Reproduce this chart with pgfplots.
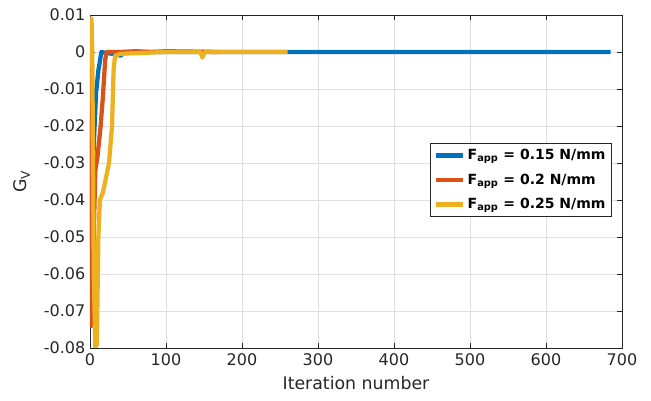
\documentclass[border=0pt]{standalone}
\usepackage{fontspec}
\setmainfont{DejaVu Sans}
\usepackage{pgfplots}
\pgfplotsset{compat=1.18}
\definecolor{mblue}{rgb}{0,0.447,0.741}
\definecolor{mred}{rgb}{0.85,0.325,0.098}
\definecolor{myel}{rgb}{0.929,0.694,0.125}
\definecolor{axc}{rgb}{0.15,0.15,0.15}
\begin{document}
\begin{tikzpicture}
\begin{axis}[
  name=ax,
  scale only axis,
  width=399pt, height=249.75pt,
  xmin=0, xmax=700, ymin=-0.08, ymax=0.01,
  xtick={0,100,...,700},
  ytick={-0.08,-0.07,...,0.01},
  scaled y ticks=false,
  yticklabels={-0.08,-0.07,-0.06,-0.05,-0.04,-0.03,-0.02,-0.01,0,0.01},
  /pgf/number format/assume math mode=true,
  ticklabel style={font=\fontsize{12}{14}\selectfont, text=axc},
  xticklabel style={yshift=-1pt},
  tick align=inside,
  major tick length=4pt,
  tick style={axc, line width=0.6pt},
  axis line style={axc, line width=0.6pt},
  grid=major,
  major grid style={gray!25, line width=0.5pt},
  xlabel={Iteration number},
  ylabel={G\textsubscript{V}},
  label style={font=\fontsize{13}{15}\selectfont, text=axc},
  xlabel style={at={(axis description cs:0.5,-0.105)}, anchor=center},
  ylabel style={at={(axis description cs:-0.128,0.5)}, anchor=center},
  legend style={at={(0.981,0.616)}, anchor=north east, draw=axc, line width=0.6pt,
     font=\fontsize{10.5}{12}\selectfont\bfseries, inner sep=2.5pt, row sep=5pt},
  legend cell align=left,
  legend image code/.code={\draw[#1, line width=3.4pt] (0pt,0pt) -- (20pt,0pt);},
  every axis plot/.append style={line width=3.2pt, line join=round},
]
\addplot[mblue] coordinates {
(0,-0.018) (1,-0.053) (5,-0.025) (8,-0.011) (11,-0.005) (15,0) (20,-0.0002)
(30,-0.0005) (40,-0.001) (45,-0.0003) (60,0) (100,0) (300,0) (685,0)};
\addlegendentry{F\textsubscript{app} = 0.15 N/mm}
\addplot[mred] coordinates {
(0,0) (1,-0.03) (2,-0.074) (7,-0.032) (10,-0.028) (14,-0.02) (17,-0.012)
(20,-0.002) (22,0) (40,0) (60,0.0002) (80,0) (100,0.0002) (170,0)};
\addlegendentry{F\textsubscript{app} = 0.2 N/mm}
\addplot[myel] coordinates {
(0,0.009) (2,0.009) (3,0) (5,-0.06) (7,-0.08) (9,-0.079) (11,-0.05) (13,-0.04)
(17,-0.038) (25,-0.03) (29,-0.02) (31,-0.005) (33,-0.001) (40,-0.0005) (60,-0.0003)
(100,0) (145,0) (148,-0.0015) (151,0) (260,0)};
\addlegendentry{F\textsubscript{app} = 0.25 N/mm}
\end{axis}
\pgfresetboundingbox
\path[use as bounding box] ([shift={(-67.5pt,-39.75pt)}]ax.south west) rectangle ([shift={(21.75pt,11.25pt)}]ax.north east);
\end{tikzpicture}
\end{document}
